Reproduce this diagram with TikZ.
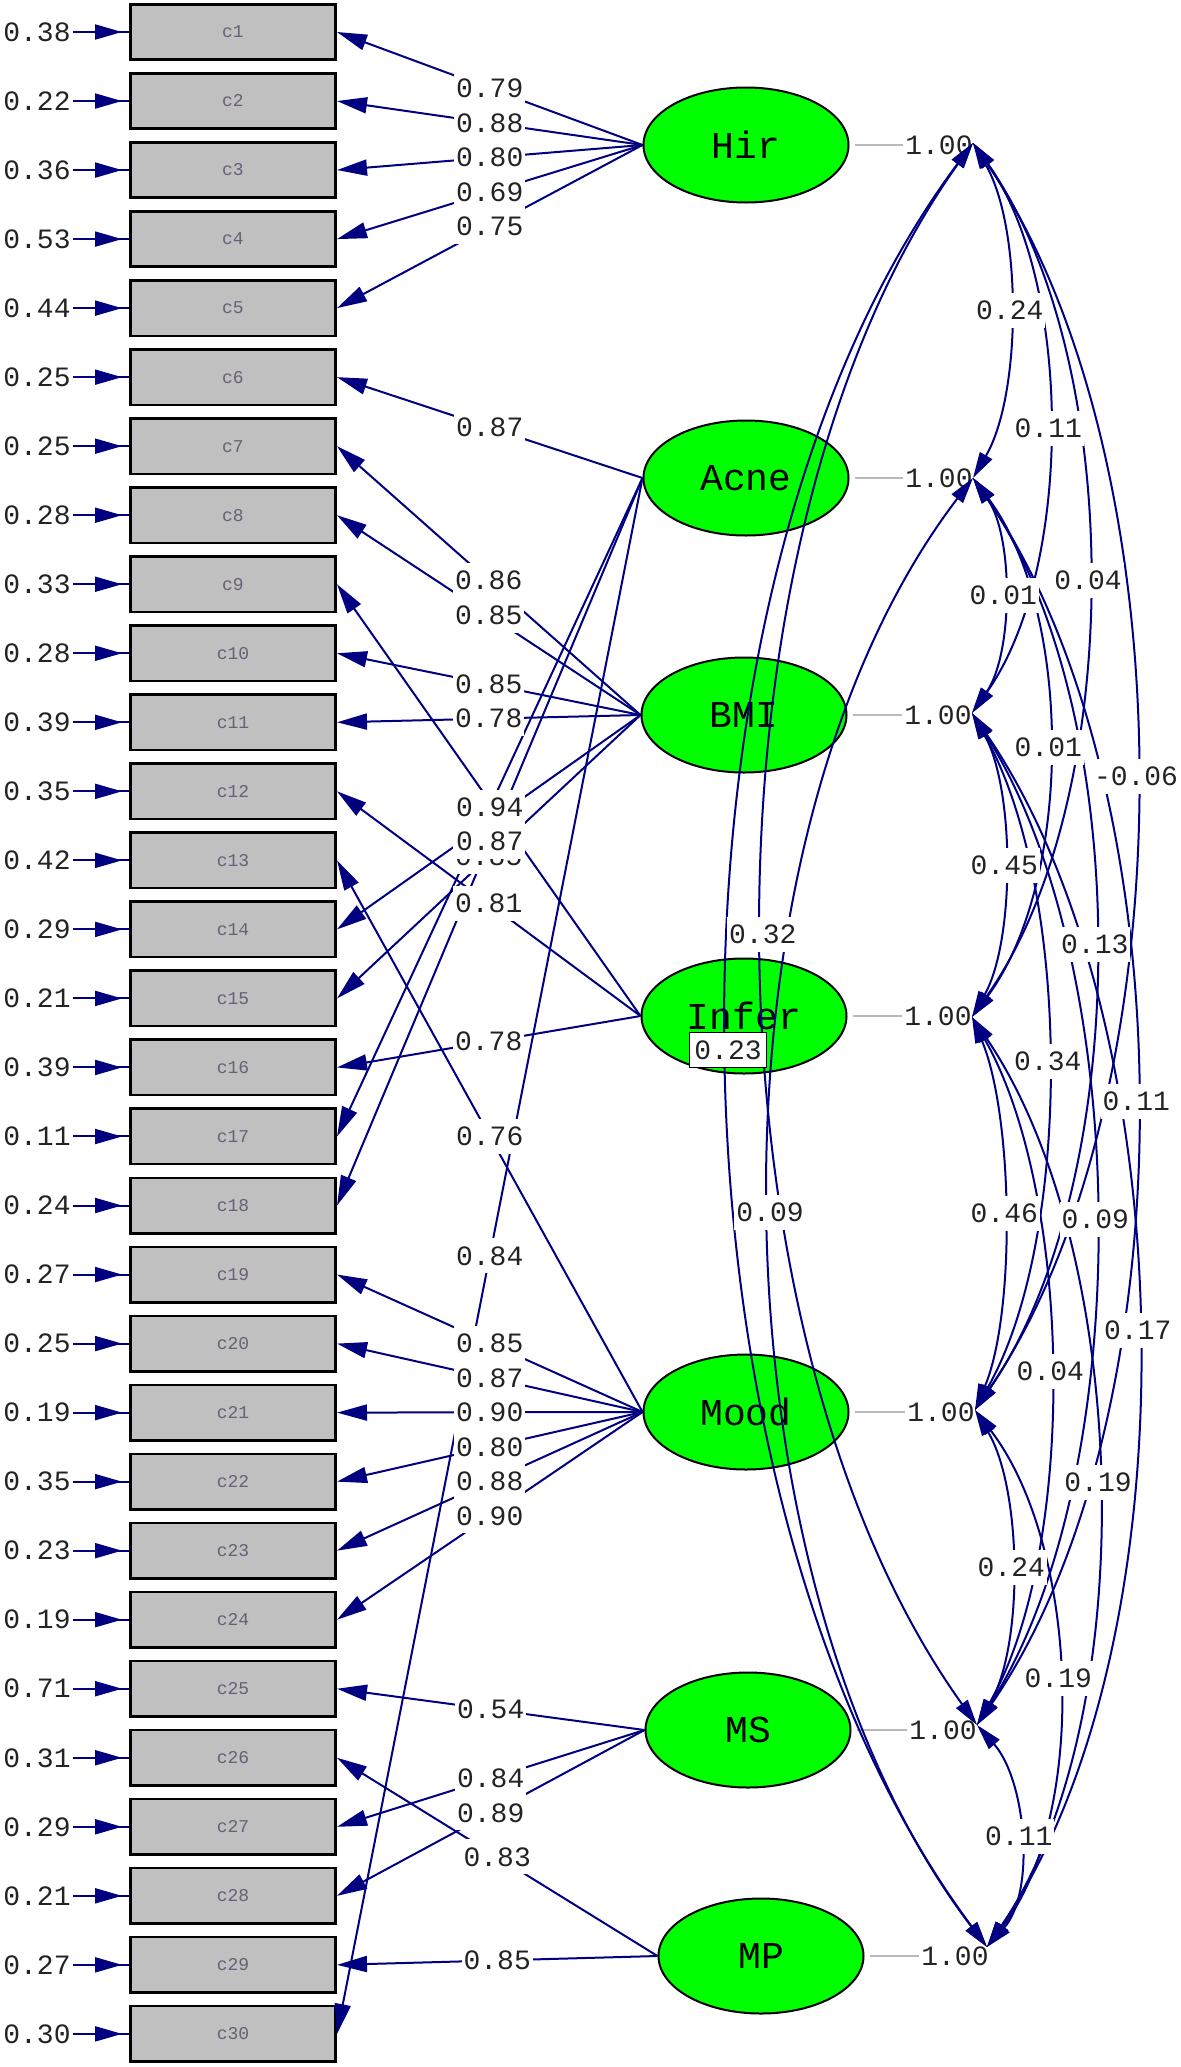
\documentclass[tikz,border=0pt]{standalone}
\usepackage{fontspec}
\usetikzlibrary{arrows.meta,shapes.geometric}
\newfontfamily\monofont{Liberation Mono}
\definecolor{pathblue}{RGB}{0,0,128}
\definecolor{boxgray}{RGB}{192,192,192}
\definecolor{latgreen}{RGB}{0,255,0}
\definecolor{lblgray}{RGB}{105,95,120}
\definecolor{numcol}{RGB}{35,35,35}
\definecolor{varcol}{RGB}{185,185,185}
\begin{document}
\begin{tikzpicture}[x=0.5pt,y=-0.5pt,
  obs/.style={draw=black,line width=1.3pt,fill=boxgray,minimum width=102.7pt,minimum height=27.7pt,inner sep=0pt,font=\monofont\fontsize{9}{9}\selectfont,text=lblgray},
  lat/.style={ellipse,draw=black,line width=1pt,fill=latgreen,minimum width=102.5pt,minimum height=57.5pt,inner sep=0pt,font=\monofont\fontsize{19}{19}\selectfont},
  errtxt/.style={font=\monofont\fontsize{14}{14}\selectfont,text=numcol,inner sep=1pt},
  vtxt/.style={font=\monofont\fontsize{14}{14}\selectfont,text=numcol,inner sep=1pt,anchor=east},
  num/.style={font=\monofont\fontsize{14}{14}\selectfont,text=numcol,fill=white,inner xsep=1pt,inner ysep=4pt},
  errline/.style={draw=pathblue,line width=1pt},
  errhead/.style={draw=pathblue,line width=1pt,shorten >=3.5pt,-{Triangle[length=13.5pt,width=7.5pt]}},
  load/.style={draw=pathblue,line width=1pt,-{Triangle[length=15pt,width=8pt]}},
  cov/.style={draw=pathblue,line width=1pt,{Triangle[length=13pt,width=7pt]}-{Triangle[length=13pt,width=7pt]}},
  varline/.style={draw=varcol,line width=1pt},
]
\useasboundingbox (0,0) rectangle (1181,2067);

% covariance anchor points
\coordinate (aH) at (973,143);
\coordinate (aA) at (973,478);
\coordinate (aB) at (972,713);
\coordinate (aI) at (972,1017);
\coordinate (aMo) at (975,1410);
\coordinate (aMS) at (977,1725);
\coordinate (aMP) at (987,1947);

% latent variables
\node[lat] (Hir) at (746,145) {Hir};
\node[lat] (Acne) at (746,478) {Acne};
\node[lat] (BMI) at (744,715) {BMI};
\node[lat] (Infer) at (744,1016) {Infer};
\node[lat] (Mood) at (746,1412) {Mood};
\node[lat] (MS) at (748,1730) {MS};
\node[lat] (MP) at (761,1956) {MP};

% variances
\foreach \f/\x in {Hir/975,Acne/975,BMI/974,Infer/974,Mood/977,MS/979,MP/991}{
  \node[vtxt] (v\f) at (\x,{0}|-\f) {1.00};
  \draw[varline] ([xshift=2.5pt]\f.east) -- (v\f.west);
}

% observed variables and error terms
\foreach \i/\ev in {1/0.38,2/0.22,3/0.36,4/0.53,5/0.44,6/0.25,7/0.25,8/0.28,9/0.33,10/0.28,11/0.39,12/0.35,13/0.42,14/0.29,15/0.21,16/0.39,17/0.11,18/0.24,19/0.27,20/0.25,21/0.19,22/0.35,23/0.23,24/0.19,25/0.71,26/0.31,27/0.29,28/0.21,29/0.27,30/0.30}{
  \node[obs] (c\i) at (233,{32+(\i-1)*69.03}) {c\i};
  \node[errtxt] (e\i) at (37,{32+(\i-1)*69.03}) {\ev};
  \draw[errline] (e\i) -- (c\i);
  \draw[errhead] (e\i) -- (c\i);
}

% loadings
\foreach \f/\c in {Hir/1,Hir/2,Hir/3,Hir/4,Hir/5,Acne/6,BMI/7,BMI/8,Infer/9,BMI/10,BMI/11,Infer/12,Mood/13,BMI/14,BMI/15,Infer/16,Acne/17,Acne/18,Mood/19,Mood/20,Mood/21,Mood/22,Mood/23,Mood/24,MS/25,MP/26,MS/27,MS/28,MP/29,Acne/30}{
  \draw[load] (\f.west) -- coordinate[pos=0.5] (m\c) (c\c.east);
}

% covariances
\foreach \n/\p/\q/\h/\v in {HA/H/A/49/84,AB/A/B/41/59,BI/B/I/43/76,IMo/I/Mo/41/98,MoMS/Mo/MS/47/79,MSMP/MS/MP/49/55,
  HB/H/B/101/142,AI/A/I/101/135,BMo/B/Mo/99/174,IMS/I/MS/101/177,MoMP/Mo/MP/103/134,
  HI/H/I/154/218,AMo/A/Mo/161/233,BMS/B/MS/161/253,IMP/I/MP/158/232,
  HMo/H/Mo/216/317,AMS/A/MS/215/312,BMP/B/MP/211/308,
  HMS/H/MS/-283/395,HMP/H/MP/-336/451,AMP/A/MP/-280/367}{
  \draw[cov] (a\p) .. controls +(\h,\v) and +(\h,-\v) .. coordinate[pos=0.5] (k\n) (a\q);
}

% loading labels
\foreach \c/\t in {1/0.79,2/0.88,3/0.80,4/0.69,5/0.75,6/0.87,7/0.86,8/0.85,10/0.85,11/0.78,12/0.81,13/0.76,15/0.85,16/0.78,17/0.94,18/0.87,19/0.85,20/0.87,21/0.90,22/0.80,23/0.88,24/0.90,25/0.54,26/0.83,27/0.84,28/0.89,29/0.85,30/0.84}{
  \node[num] (n\c) at (m\c) {\t};
}

% covariance labels
\foreach \n/\t in {HA/0.24,AB/0.01,BI/0.45,IMo/0.46,MoMS/0.24,MSMP/0.11,HB/0.11,AI/0.01,BMo/0.34,IMS/0.04,MoMP/0.19,HI/0.04,AMo/0.13,BMS/0.09,IMP/0.19,HMo/-0.06,AMS/0.11,BMP/0.17,HMS/0.32,AMP/0.09}{
  \node[num] (t\n) at (k\n) {\t};
}
\node[num,draw=black,line width=0.6pt,inner xsep=2.5pt] (tHMP) at ([yshift=-2.5pt]kHMP) {0.23};
\end{tikzpicture}
\end{document}
